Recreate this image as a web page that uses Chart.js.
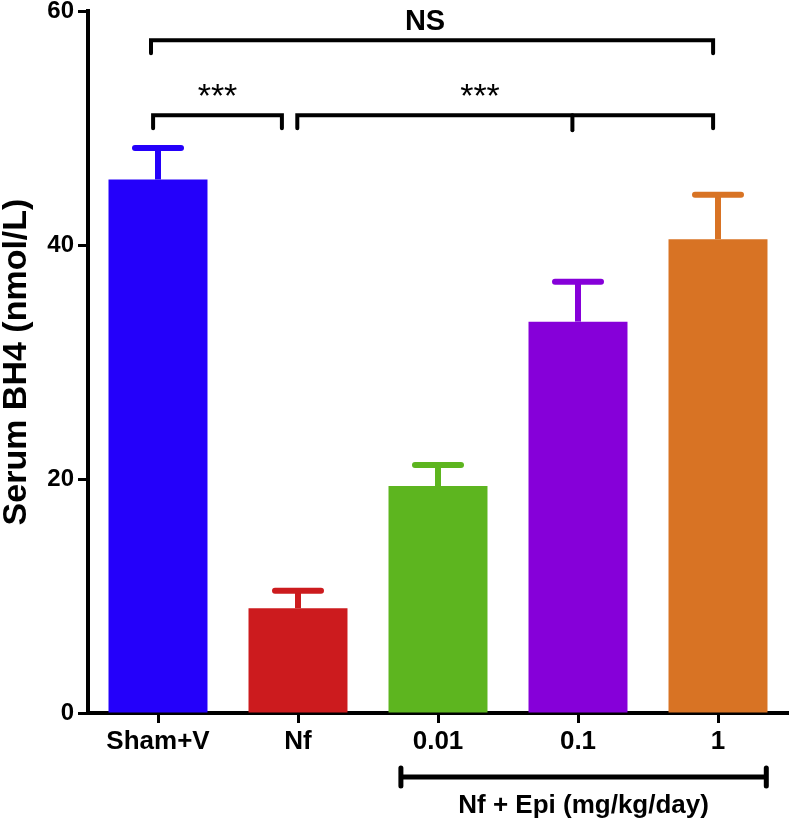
<!DOCTYPE html>
<html>
<head>
<meta charset="utf-8">
<script src="https://cdn.jsdelivr.net/npm/chart.js@4.4.0/dist/chart.umd.min.js"></script>
<style>
html,body{margin:0;padding:0;background:#fff;}
#wrap{width:791px;height:823px;position:relative;}
</style>
</head>
<body>
<div id="wrap"><canvas id="c" width="791" height="823"></canvas></div>
<script>
// ---- data ----
const categories = ['Sham+V', 'Nf', '0.01', '0.1', '1'];
const means = [45.6, 8.95, 19.4, 33.45, 40.5];
const sems = [2.7, 1.5, 1.8, 3.4, 3.8];
const barColors = ['#2400FA', '#CC1B1E', '#5DB51F', '#8600D9', '#D87324'];
const yTicks = [0, 20, 40, 60];
const yTitle = 'Serum BH4 (nmol/L)';
const groupLabel = 'Nf + Epi (mg/kg/day)';
// significance brackets: category positions and level in data units
const sigLabels = ['NS', '***', '***'];
const sigFrom = [-0.05, -0.035, 0.995];
const sigTo = [3.965, 0.885, 3.965];
const sigMid = [null, null, 2.96];
const sigLevel = [57.5, 51.1, 51.1];

const FONT = '"Liberation Sans", Arial, Helvetica, sans-serif';

const errorBars = {
  id: 'errorBars',
  afterDatasetsDraw(chart) {
    const ctx = chart.ctx;
    const meta = chart.getDatasetMeta(0);
    const y = chart.scales.y;
    ctx.save();
    ctx.lineCap = 'round';
    meta.data.forEach((bar, i) => {
      const x = bar.x;
      const yb = y.getPixelForValue(means[i]);
      const yt = y.getPixelForValue(means[i] + sems[i]);
      ctx.strokeStyle = barColors[i];
      ctx.lineWidth = 6;
      ctx.beginPath();
      ctx.lineCap = 'butt';
      ctx.moveTo(x, yb);
      ctx.lineTo(x, yt);
      ctx.stroke();
      ctx.lineCap = 'round';
      ctx.beginPath();
      ctx.moveTo(x - 23, yt);
      ctx.lineTo(x + 23, yt);
      ctx.stroke();
    });
    ctx.restore();
  }
};

const brackets = {
  id: 'brackets',
  afterDraw(chart) {
    const ctx = chart.ctx;
    const xs = chart.scales.x, ys = chart.scales.y;
    ctx.save();
    ctx.strokeStyle = '#000';
    ctx.fillStyle = '#000';
    ctx.lineWidth = 4;
    ctx.lineCap = 'round';
    ctx.lineJoin = 'miter';
    sigLabels.forEach((lab, k) => {
      const x1 = xs.getPixelForValue(sigFrom[k]);
      const x2 = xs.getPixelForValue(sigTo[k]);
      const yl = ys.getPixelForValue(sigLevel[k]);
      const drop = 13;
      ctx.beginPath();
      ctx.moveTo(x1, yl + drop);
      ctx.lineTo(x1, yl);
      ctx.lineTo(x2, yl);
      ctx.lineTo(x2, yl + drop);
      ctx.stroke();
      if (sigMid[k] !== null) {
        const xm = xs.getPixelForValue(sigMid[k]);
        ctx.beginPath();
        ctx.moveTo(xm, yl);
        ctx.lineTo(xm, yl + drop + 2);
        ctx.stroke();
      }
      ctx.textAlign = 'center';
      ctx.textBaseline = 'alphabetic';
      if (lab === 'NS') {
        ctx.font = 'bold 29px ' + FONT;
        ctx.fillText(lab, (x1 + x2) / 2 - 7, yl - 10);
      } else {
        ctx.font = '34px ' + FONT;
        const cx = k === 1 ? (x1 + x2) / 2 : xs.getPixelForValue(2.3);
        ctx.fillText(lab, cx, yl - 8);
      }
    });
    // group bracket under x axis
    const gx1 = xs.getPixelForValue(1.735);
    const gx2 = xs.getPixelForValue(4.345);
    const gy = chart.chartArea.bottom + 64;
    ctx.lineWidth = 5;
    ctx.beginPath();
    ctx.moveTo(gx1, gy); ctx.lineTo(gx2, gy);
    ctx.moveTo(gx1, gy - 9); ctx.lineTo(gx1, gy + 9);
    ctx.moveTo(gx2, gy - 9); ctx.lineTo(gx2, gy + 9);
    ctx.stroke();
    ctx.font = 'bold 26px ' + FONT;
    ctx.textAlign = 'center';
    ctx.textBaseline = 'alphabetic';
    ctx.fillText(groupLabel, (gx1 + gx2) / 2, gy + 36);
    ctx.restore();
  }
};

new Chart(document.getElementById('c'), {
  type: 'bar',
  data: {
    labels: categories,
    datasets: [{
      data: means,
      backgroundColor: barColors,
      borderWidth: 0,
      barPercentage: 0.707,
      categoryPercentage: 1.0
    }]
  },
  options: {
    responsive: false,
    animation: false,
    devicePixelRatio: 1,
    layout: { padding: { top: 11, left: 0, right: 3, bottom: 0 } },
    plugins: { legend: { display: false }, tooltip: { enabled: false } },
    scales: {
      x: {
        offset: true,
        grid: { display: true, offset: false, drawOnChartArea: false, drawTicks: true, tickLength: 10, tickWidth: 3, tickColor: '#000' },
        border: { display: true, color: '#000', width: 4 },
        ticks: { color: '#000', font: { family: FONT, size: 26, weight: 'bold', lineHeight: 1 }, padding: 6, maxRotation: 0, autoSkip: false },
        afterFit(s) { s.height = 110; s.paddingLeft = 0; s.paddingRight = 0; }
      },
      y: {
        min: 0, max: 60,
        afterBuildTicks(s) { s.ticks = yTicks.map(v => ({ value: v })); },
        grid: { display: true, drawOnChartArea: false, drawTicks: true, tickLength: 10, tickWidth: 3, tickColor: '#000' },
        border: { display: true, color: '#000', width: 4 },
        ticks: { color: '#000', font: { family: FONT, size: 24, weight: 'bold', lineHeight: 1 }, padding: 4 },
        title: { display: true, text: yTitle, color: '#000', font: { family: FONT, size: 34, weight: 'bold', lineHeight: 1 }, padding: 0 },
        afterFit(s) { s.width = 88; s.paddingTop = 0; s.paddingBottom = 0; }
      }
    }
  },
  plugins: [errorBars, brackets]
});
</script>
</body>
</html>
